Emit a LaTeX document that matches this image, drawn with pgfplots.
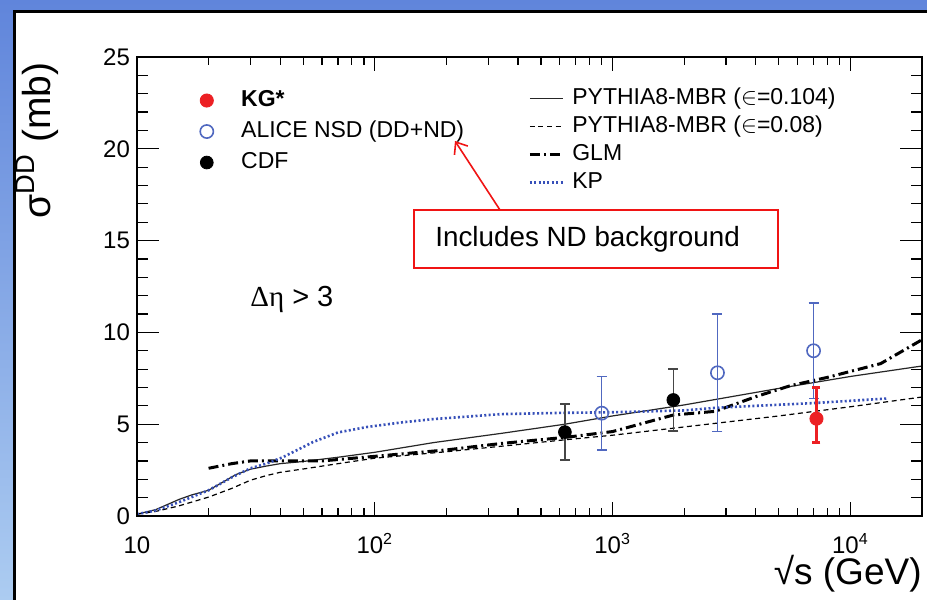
\documentclass[border=0pt]{standalone}
\usepackage{fontspec}
\setmainfont{Liberation Sans}
\newfontfamily\serifgreek{Liberation Serif}
\usepackage{pgfplots}
\pgfplotsset{compat=1.18}
\usetikzlibrary{arrows.meta}

\definecolor{bgtop}{RGB}{96,133,219}
\definecolor{bgbot}{RGB}{172,204,241}
\definecolor{kgred}{RGB}{236,32,36}
\definecolor{boxred}{RGB}{240,20,20}
\definecolor{alblue}{RGB}{80,104,192}
\definecolor{kpblue}{RGB}{55,80,185}
\definecolor{cdfgray}{RGB}{70,70,70}

\begin{document}
\begin{tikzpicture}
\path[use as bounding box] (0,0) rectangle (463.5pt,300pt);
% slide background and white panel
\shade[top color=bgtop, bottom color=bgbot] (0,0) rectangle (463.5pt,300pt);
\fill[white] (7.25pt,-2pt) rectangle (470pt,294.25pt);
\draw[black, line width=1.5pt] (7.25pt,-2pt) -- (7.25pt,294.25pt) -- (470pt,294.25pt);

% model curves, x ticks
\begin{axis}[
    at={(68.5pt,42pt)}, anchor=south west,
    scale only axis, width=392.5pt, height=229.5pt,
    xmode=log, xmin=10, xmax=20000, ymin=0, ymax=25,
    axis line style={line width=0.6pt},
    tick style={black, line width=0.6pt},
    xtick={10,100,1000,10000},
    xticklabels={10,10\textsuperscript{2},10\textsuperscript{3},10\textsuperscript{4}},
    minor xtick={20,30,40,50,60,70,80,90,200,300,400,500,600,700,800,900,2000,3000,4000,5000,6000,7000,8000,9000},
    ytick=\empty,
    major tick length=7pt, minor tick length=4pt,
    xticklabel style={font=\fontsize{12}{14}\selectfont, anchor=base, yshift=-18.5pt},
    xlabel={√s (GeV)},
    xlabel style={font=\fontsize{18.5}{20}\selectfont, at={(axis description cs:1,-0.1503)}, anchor=base east, inner sep=0pt},
    legend cell align=left,
    legend image code/.code={\draw[#1] (0pt,0pt) -- (16.5pt,0pt); \path (18.5pt,0pt);},
    legend style={at={(axis description cs:0.498,0.935)}, anchor=north west,
        draw=none, fill=none, inner sep=0pt,
        font=\fontsize{11.5}{13}\selectfont,
        nodes={inner ysep=0pt, inner xsep=2pt, text height=8.5pt, text depth=2.5pt},
        row sep=3pt},
]
% PYTHIA8-MBR eps=0.104
\addplot[black!85, line width=0.6pt] coordinates {
    (10,0.1) (12,0.35) (13.4,0.62) (15,0.9) (17,1.15) (20,1.4) (23,1.85) (26,2.25)
    (30,2.55) (35,2.72) (40,2.85) (50,2.97) (70,3.2) (100,3.47) (177,4.0) (340,4.5)
    (630,5.0) (1000,5.45) (2000,6.05) (5000,6.95) (10000,7.6) (20000,8.17)
};
\addlegendentry{PYTHIA8-MBR ($\in$=0.104)}
% PYTHIA8-MBR eps=0.08
\addplot[black, line width=0.6pt, dash pattern=on 2.5pt off 1.8pt] coordinates {
    (10,0.1) (12,0.25) (15,0.55) (20,1.03) (25,1.5) (30,1.95) (35,2.2) (40,2.38)
    (50,2.56) (70,2.85) (100,3.15) (200,3.5) (340,3.8) (630,4.15) (1000,4.4)
    (2000,4.85) (5000,5.45) (10000,5.95) (20000,6.48)
};
\addlegendentry{PYTHIA8-MBR ($\in$=0.08)}
% GLM
\addplot[black, line width=1.5pt, dash pattern=on 5pt off 2pt on 1pt off 2pt] coordinates {
    (20,2.6) (25,2.85) (30,3.0) (40,3.0) (60,3.0) (100,3.25) (200,3.6) (340,3.95)
    (650,4.3) (1000,4.6) (1800,5.5) (2700,5.7) (4000,6.5) (5600,7.1) (8000,7.55)
    (13400,8.3) (20000,9.6)
};
\addlegendentry{GLM}
% KP
\addplot[kpblue, line width=1.3pt, dash pattern=on 1pt off 1.2pt] coordinates {
    (10,0.1) (12,0.3) (15,0.75) (20,1.4) (25,2.1) (30,2.6) (35,2.85) (41,3.2)
    (49,3.7) (55,4.03) (70,4.55) (93,4.85) (130,5.1) (177,5.28) (340,5.55)
    (630,5.62) (1000,5.65) (2000,5.75) (2760,5.9) (7000,6.15) (14300,6.4)
};
\addlegendentry{KP}
\end{axis}

% data points, y ticks
\begin{axis}[
    at={(68.5pt,42pt)}, anchor=south west,
    scale only axis, width=392.5pt, height=229.5pt,
    xmode=log, xmin=10, xmax=20000, ymin=0, ymax=25,
    axis line style={line width=0.6pt},
    tick style={black, line width=0.6pt},
    xtick=\empty,
    ytick={0,5,10,15,20,25}, minor y tick num=4,
    major tick length=11pt, minor tick length=5.5pt,
    /pgf/number format/assume math mode=true,
    yticklabel style={font=\fontsize{12}{14}\selectfont},
    ylabel={σ\textsuperscript{DD} (mb)},
    ylabel style={font=\fontsize{19.5}{21}\selectfont, at={(axis description cs:-0.1108,0.818)}, anchor=base, inner sep=0pt},
    reverse legend,
    legend cell align=left,
    legend image code/.code={\path (0pt,0pt) (19pt,0pt); \draw[#1] plot coordinates {(4pt,0pt)};},
    legend style={at={(axis description cs:0.0777,0.93)}, anchor=north west,
        draw=none, fill=none, inner sep=0pt,
        font=\fontsize{11.5}{13}\selectfont,
        nodes={inner ysep=0pt, inner xsep=2pt, text height=8.5pt, text depth=2.5pt},
        row sep=4.5pt},
]
% CDF
\addplot[only marks, mark=*, mark size=3.2pt, black,
    error bars/.cd, y dir=both, y explicit,
    error bar style={cdfgray, line width=0.7pt},
    error mark options={cdfgray, line width=0.7pt, mark size=2.5pt, rotate=90}]
    coordinates {
    (630,4.57) += (0,1.53) -= (0,1.52)
    (1800,6.32) += (0,1.68) -= (0,1.69)
};
\addlegendentry{CDF}
% ALICE
\addplot[only marks, mark=o, mark size=3.3pt, alblue, mark options={line width=0.8pt},
    error bars/.cd, y dir=both, y explicit,
    error bar style={alblue, line width=0.6pt},
    error mark options={alblue, line width=0.6pt, mark size=2.5pt, rotate=90}]
    coordinates {
    (900,5.6) += (0,2.0) -= (0,2.0)
    (2760,7.8) += (0,3.2) -= (0,3.2)
    (7000,9.0) += (0,2.6) -= (0,2.6)
};
\addlegendentry{ALICE NSD (DD+ND)}
% KG*
\addplot[only marks, mark=*, mark size=3.3pt, kgred,
    error bars/.cd, y dir=both, y explicit,
    error bar style={kgred, line width=1.2pt},
    error mark options={kgred, line width=1.2pt, mark size=2pt, rotate=90}]
    coordinates {
    (7200,5.3) += (0,1.7) -= (0,1.3)
};
\addlegendentry{\textbf{KG*}}
\end{axis}

% annotations
\node[anchor=base west, font=\fontsize{14.5}{16}\selectfont, inner sep=0pt] at (125pt,146.5pt) {{\serifgreek Δη} > 3};
\draw[boxred, line width=0.8pt, -{Straight Barb[length=5pt,width=8pt]}] (250pt,195pt) -- (227.5pt,229.5pt);
\draw[boxred, line width=1pt, fill=white] (207pt,166pt) rectangle (389pt,195pt);
\node[anchor=west, font=\fontsize{13.9}{15}\selectfont, inner sep=0pt] at (217.5pt,180.5pt) {Includes ND background};
\end{tikzpicture}
\end{document}
